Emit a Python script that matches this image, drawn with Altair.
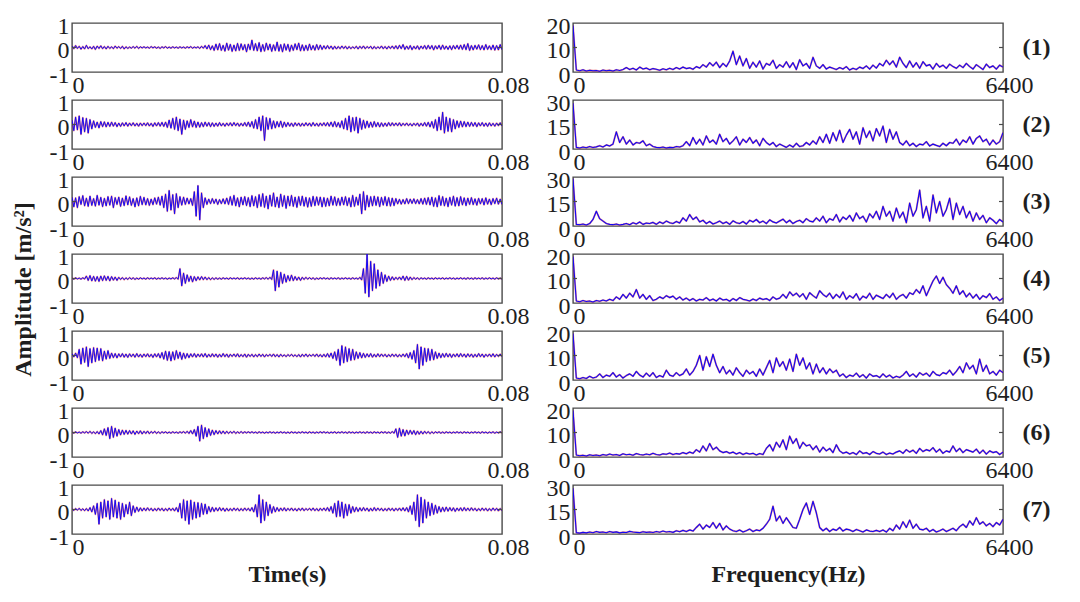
import altair as alt
import pandas as pd

# ---------------- data ----------------
T_MAX = 0.08          # s
F_MAX = 6400          # Hz

# time signals, values in hundredths of m/s^2 (12 rows of 20 samples each)
time_1 = [6,-5,8,-4,5,-7,4,-6,9,-5,3,-6,5,-8,6,-4,7,-5,4,-6,
          5,-4,3,-5,6,-3,4,-4,5,-6,3,-4,2,-3,4,-3,5,-4,3,-2,
          3,-2,2,-3,4,-2,3,-3,2,-4,3,-2,4,-3,2,-3,3,-2,2,-3,
          3,-2,2,-3,3,-2,4,-3,2,-2,3,-4,5,-3,8,-6,10,-9,7,-12,
          14,-10,16,-12,9,-15,18,-11,13,-16,10,-14,17,-12,15,-10,12,-18,14,-9,
          30,-12,16,-14,20,-17,12,-15,18,-10,14,-16,11,-13,22,-15,12,-18,15,-11,
          13,-16,10,-12,15,-9,18,-14,11,-13,9,-12,14,-10,8,-11,12,-9,10,-8,
          7,-6,8,-5,6,-7,5,-6,4,-5,6,-4,5,-6,4,-5,3,-4,5,-6,
          5,-4,6,-5,4,-3,5,-6,4,-5,3,-4,6,-5,4,-6,5,-4,6,-5,
          7,-6,9,-5,12,-8,6,-7,8,-9,5,-6,7,-8,6,-5,8,-7,9,-6,
          8,-10,7,-6,9,-8,10,-7,6,-8,7,-9,8,-6,9,-7,10,-8,12,-9,
          16,-12,8,-10,9,-7,11,-9,8,-10,12,-8,7,-9,10,-11,8,-10,12,-9]
time_2 = [18,-25,30,-22,35,-40,28,-30,25,-35,20,-18,15,-12,10,-14,12,-9,11,-10,
          9,-8,10,-7,8,-9,6,-8,7,-6,8,-7,6,-5,7,-6,5,-7,6,-5,
          6,-5,7,-6,5,-8,7,-6,8,-7,9,-8,10,-12,18,-15,25,-20,30,-25,
          22,-40,18,-20,15,-12,20,-10,14,-12,10,-11,8,-9,10,-7,8,-9,7,-8,
          6,-7,8,-6,5,-7,6,-5,7,-6,8,-5,6,-7,5,-6,8,-7,10,-9,
          12,-15,20,-18,30,-25,35,-65,28,-20,25,-18,15,-14,12,-10,14,-12,10,-9,
          8,-7,6,-8,7,-5,6,-7,5,-6,7,-5,6,-7,8,-6,5,-7,6,-5,
          7,-6,8,-7,10,-9,12,-10,8,-12,15,-18,25,-22,35,-30,28,-25,30,-35,
          25,-20,18,-15,14,-12,10,-11,12,-9,8,-10,7,-8,6,-7,8,-6,7,-5,
          6,-5,7,-6,5,-4,6,-5,4,-6,5,-4,6,-7,5,-6,8,-7,9,-10,
          12,-15,20,-25,30,-22,50,-35,30,-28,25,-30,20,-18,15,-12,14,-10,12,-9,
          10,-8,9,-7,8,-9,7,-6,8,-7,6,-8,7,-6,5,-7,6,-5,7,-6]
time_3 = [18,-22,15,-25,20,-12,24,-18,14,-20,22,-16,12,-19,25,-15,17,-21,13,-18,
          20,-15,22,-25,16,-12,18,-20,14,-17,23,-14,19,-16,12,-22,15,-18,21,-13,
          17,-14,12,-16,10,-13,15,-11,18,-15,22,-25,30,-40,45,-35,28,-50,32,-25,
          20,-15,18,-12,14,-10,12,-16,40,-60,65,-75,35,-25,15,-12,10,-9,12,-8,
          10,-12,8,-9,11,-10,14,-12,20,-15,25,-18,15,-22,18,-14,20,-17,16,-21,
          24,-18,20,-25,28,-20,32,-24,22,-30,26,-19,35,-22,18,-25,30,-20,24,-28,
          22,-18,25,-20,18,-24,20,-16,22,-19,17,-23,15,-20,21,-17,19,-15,18,-22,
          16,-20,14,-18,22,-15,19,-17,13,-16,18,-14,20,-17,15,-22,25,-20,18,-15,
          30,-50,40,-35,25,-22,20,-18,22,-16,19,-21,17,-15,20,-18,16,-19,14,-17,
          12,-10,9,-11,8,-10,12,-9,10,-8,11,-9,8,-10,12,-11,14,-12,16,-14,
          18,-20,15,-22,24,-16,20,-18,14,-21,17,-15,22,-19,16,-18,20,-14,15,-17,
          14,-12,16,-13,11,-15,13,-10,12,-14,15,-11,10,-13,12,-9,14,-11,10,-12]
time_4 = [2,-3,3,-2,2,-3,3,-2,10,-8,12,-10,9,-11,8,-12,10,-9,11,-8,
          9,-10,8,-7,6,-8,5,-4,4,-5,3,-4,4,-3,3,-4,2,-3,3,-2,
          2,-3,3,-2,2,-2,3,-3,2,-2,3,-2,2,-3,2,-2,3,-2,4,-3,
          40,-30,22,-20,15,-12,10,-14,8,-9,7,-6,8,-5,6,-5,4,-5,3,-4,
          3,-3,2,-3,3,-2,2,-3,3,-2,2,-2,3,-3,2,-2,3,-2,2,-3,
          2,-3,3,-2,2,-3,3,-2,4,-3,5,-4,35,-50,30,-35,25,-20,18,-15,
          12,-10,14,-9,8,-7,6,-8,5,-4,5,-3,4,-3,3,-4,2,-3,3,-2,
          3,-2,2,-3,3,-2,2,-2,3,-3,2,-2,3,-2,2,-3,3,-2,2,-3,
          5,-6,40,-60,100,-75,70,-50,60,-40,35,-30,25,-20,15,-12,10,-8,7,-6,
          5,-4,6,-5,10,-8,9,-7,6,-5,4,-3,3,-4,3,-2,2,-3,3,-2,
          2,-3,3,-2,2,-2,3,-3,2,-2,3,-2,2,-3,2,-2,3,-2,2,-3,
          3,-2,2,-3,3,-2,2,-2,3,-3,2,-2,3,-2,2,-3,3,-2,2,-3]
time_5 = [8,-6,10,-9,25,-35,30,-28,35,-45,28,-30,32,-25,30,-20,28,-22,18,-15,
          20,-12,10,-9,8,-10,7,-6,8,-7,6,-8,7,-5,6,-7,8,-6,5,-7,
          6,-5,7,-6,5,-8,7,-6,8,-10,12,-15,18,-20,16,-22,15,-18,20,-12,
          14,-16,10,-12,8,-9,7,-6,8,-7,6,-5,7,-6,8,-7,5,-6,7,-5,
          6,-7,5,-6,8,-5,6,-7,5,-4,6,-5,7,-6,4,-5,6,-7,5,-4,
          5,-6,4,-5,6,-4,5,-6,4,-3,5,-4,6,-5,4,-6,5,-4,3,-5,
          4,-3,5,-4,3,-5,4,-6,5,-4,6,-5,4,-3,5,-4,6,-5,4,-6,
          5,-6,8,-7,10,-12,15,-20,25,-40,40,-30,35,-25,28,-20,25,-18,15,-12,
          12,-10,9,-8,7,-6,8,-7,5,-6,7,-5,6,-4,5,-6,4,-5,6,-4,
          5,-6,4,-5,6,-5,8,-10,12,-15,20,-30,45,-55,35,-40,30,-25,28,-20,
          25,-18,15,-12,10,-9,8,-7,9,-6,7,-8,6,-5,7,-6,8,-5,6,-7,
          7,-5,6,-7,5,-6,8,-5,6,-7,5,-4,6,-5,7,-6,5,-4,6,-5]
time_6 = [2,-3,3,-2,2,-3,3,-2,4,-3,5,-4,3,-5,4,-6,8,-10,15,-12,
          20,-25,25,-20,18,-15,12,-10,10,-8,9,-7,8,-6,7,-8,6,-5,7,-6,
          5,-4,6,-5,4,-3,5,-4,3,-4,3,-2,3,-3,2,-3,3,-2,2,-3,
          3,-2,4,-3,5,-4,8,-6,12,-15,25,-35,30,-25,20,-18,15,-12,10,-9,
          8,-6,7,-5,6,-5,5,-4,4,-3,5,-4,3,-3,4,-3,3,-2,3,-2,
          3,-2,2,-3,3,-2,2,-3,2,-2,3,-2,2,-3,2,-2,3,-2,2,-3,
          2,-3,3,-2,2,-3,2,-2,3,-2,2,-3,3,-2,2,-3,2,-2,3,-2,
          3,-2,2,-3,2,-2,3,-3,2,-2,3,-2,2,-3,3,-2,2,-3,2,-2,
          3,-2,2,-3,3,-2,2,-3,3,-2,2,-3,3,-2,3,-3,2,-3,4,-3,
          15,-20,18,-15,12,-14,10,-8,9,-7,8,-9,6,-7,5,-6,5,-4,4,-5,
          3,-4,3,-2,3,-3,2,-3,3,-2,2,-3,2,-2,3,-2,2,-3,3,-2,
          2,-3,2,-2,3,-2,2,-3,3,-2,2,-3,2,-2,3,-3,2,-2,3,-2]
time_7 = [3,-4,4,-3,5,-4,3,-5,4,-6,8,-10,15,-20,25,-60,30,-35,40,-30,
          35,-40,45,-30,38,-35,30,-40,25,-30,20,-18,30,-25,15,-12,10,-8,7,-6,
          6,-5,7,-4,5,-6,4,-5,6,-4,5,-6,4,-5,6,-4,5,-6,8,-10,
          25,-35,40,-45,35,-60,38,-40,30,-35,28,-30,25,-20,22,-18,12,-10,9,-8,
          7,-6,8,-5,6,-7,5,-6,4,-5,6,-4,5,-6,4,-5,6,-4,5,-6,
          8,-10,20,-30,60,-55,40,-45,30,-25,20,-15,12,-10,8,-7,6,-5,7,-6,
          5,-4,6,-5,4,-6,5,-4,6,-5,4,-3,5,-4,6,-5,4,-6,5,-4,
          6,-5,8,-7,12,-15,25,-30,35,-28,30,-35,22,-25,20,-15,12,-10,9,-8,
          7,-6,8,-5,6,-7,5,-6,8,-5,6,-4,5,-6,4,-5,6,-4,5,-6,
          5,-4,6,-5,7,-6,8,-10,15,-20,30,-45,60,-70,50,-55,40,-35,30,-25,
          25,-20,18,-15,12,-10,9,-8,10,-7,8,-6,7,-8,6,-5,7,-6,8,-5,
          6,-5,7,-4,5,-6,4,-5,6,-4,5,-6,4,-5,6,-4,5,-6,4,-5]

# amplitude spectra
spec_1 = [19,
          0.8,0.5,0.9,0.4,0.7,0.5,0.6,0.3,0.8,0.5,0.7,0.4,0.9,0.6,1.0,
          1.8,1.0,1.5,0.8,2.0,1.2,1.6,0.9,1.4,1.1,0.7,1.3,0.9,1.5,1.0,1.8,1.2,2.0,1.4,1.7,1.1,2.2,1.6,
          3.0,2.0,3.8,2.5,4.0,1.8,3.5,2.2,4.5,
          8.5,3.0,6.5,
          2.5,5.5,1.5,4.0,2.0,4.5,1.2,3.5,2.8,4.8,1.5,3.0,2.0,4.2,1.8,3.8,1.0,5.0,2.5,3.5,1.5,6.0,
          2.5,1.5,3.0,1.2,2.0,1.5,1.0,1.8,1.2,2.2,0.8,1.5,1.0,2.0,1.4,2.5,1.2,2.8,1.6,
          3.5,2.5,4.8,3.0,4.5,2.0,6.0,3.5,1.8,4.5,
          2.0,3.8,1.5,4.2,2.5,3.0,1.2,3.5,2.0,2.8,1.5,3.2,2.2,1.5,2.8,1.8,3.5,2.2,1.2,3.0,2.0,1.0,3.2,1.8,2.5,1.2,2.8,2.0]
spec_2 = [28,
          1.0,0.6,1.2,0.8,1.5,0.9,1.3,2.0,1.2,2.5,1.8,3.0,
          10.5,4.0,
          7.5,3.0,5.5,2.5,4.0,3.5,5.0,2.0,3.0,
          1.5,1.0,0.8,1.2,0.6,1.0,0.8,1.5,1.2,2.0,
          4.5,2.0,7.0,3.0,6.0,2.5,8.0,4.0,5.5,3.0,9.0,4.5,6.5,3.0,5.0,7.5,2.5,6.0,4.0,7.0,3.5,5.5,2.0,6.5,4.0,
          2.5,4.0,1.5,3.0,2.0,1.0,2.5,1.2,3.5,1.5,2.0,4.0,2.5,
          5.0,3.0,7.5,4.0,9.0,3.5,10.0,5.0,11.5,4.0,8.5,12.0,6.0,10.5,3.0,13.0,7.0,11.0,5.0,
          12.5,8.0,14.0,4.0,12.0,6.0,10.5,
          4.0,2.5,5.0,2.0,3.5,1.5,3.0,2.5,4.5,1.8,3.0,2.2,1.5,3.5,2.0,4.0,
          3.5,6.0,2.5,5.5,4.0,7.5,3.0,6.5,8.0,4.5,6.0,2.5,5.5,3.0,4.5,10.0]
spec_3 = [29,
          1.0,0.8,1.2,0.6,1.5,
          4.0,9.0,4.5,
          3.0,1.5,1.0,0.8,1.2,0.6,1.0,1.5,0.8,2.0,1.2,2.5,1.0,1.8,1.5,2.2,1.0,2.5,1.5,3.0,2.0,1.5,2.8,1.8,
          5.0,3.0,7.0,4.0,5.5,
          2.5,3.5,1.5,2.8,1.2,2.0,3.0,1.5,2.5,1.0,3.2,2.0,1.5,2.8,1.2,3.5,2.5,4.0,2.0,3.0,1.5,3.8,2.5,1.8,3.0,4.2,2.0,3.5,1.5,2.8,3.5,2.0,4.5,3.0,
          2.5,5.0,3.0,6.0,2.0,4.5,3.5,7.0,2.5,5.5,4.0,6.5,3.0,8.0,4.5,6.0,2.5,7.5,5.0,9.0,
          4.0,12.0,6.0,9.0,3.0,11.0,5.0,8.5,
          2.0,14.0,6.0,10.0,22.0,5.0,12.0,3.0,19.0,8.0,15.0,6.0,10.0,17.0,4.0,14.0,7.0,
          12.0,5.0,9.0,3.0,8.0,4.0,6.5,2.0,5.0,3.5,1.5,4.0,2.5]
spec_4 = [19,
          0.8,0.5,1.0,0.6,0.8,0.4,1.0,0.7,1.2,0.8,1.5,1.0,
          2.5,1.5,3.5,2.0,4.0,2.5,
          5.5,
          2.0,3.5,1.5,3.0,1.0,
          1.5,2.5,1.8,3.0,2.2,2.8,1.5,2.5,
          1.2,2.0,1.0,1.8,0.8,1.5,1.2,2.2,1.0,1.6,0.8,2.0,1.2,1.5,0.7,1.8,1.0,2.2,1.5,1.2,0.8,1.6,1.0,2.0,1.4,1.8,1.0,2.5,1.5,2.0,
          3.5,2.0,4.5,3.0,4.0,2.5,3.8,1.5,4.2,3.0,2.0,5.0,3.5,
          2.5,4.0,1.8,3.5,2.2,4.5,1.5,3.0,2.0,3.8,1.2,2.8,2.0,4.0,1.5,3.2,2.5,1.8,3.5,2.2,4.0,1.5,2.8,3.5,2.0,4.2,
          3.5,5.5,4.0,7.0,3.0,6.0,
          9.0,11.0,8.0,10.5,7.5,
          6.0,4.0,7.0,3.5,5.0,
          2.5,4.0,2.0,3.5,1.5,3.0,2.2,3.8,1.5,2.5,1.0,2.0]
spec_5 = [19,
          0.8,0.5,1.0,0.6,1.5,0.8,1.2,2.5,1.0,2.0,1.5,3.0,1.2,2.2,0.8,1.8,2.5,1.5,3.5,2.0,1.2,2.8,1.5,3.0,1.0,1.8,1.2,4.0,2.0,1.5,3.0,1.8,
          2.5,4.5,2.0,3.5,
          6.0,10.0,4.0,9.5,5.5,10.5,6.0,
          3.0,5.5,2.5,4.0,2.0,5.0,3.0,1.5,4.0,2.5,3.5,1.5,4.5,2.0,
          5.0,8.0,3.0,9.0,5.5,7.5,4.0,8.5,3.5,10.5,6.0,9.0,4.5,7.0,2.5,6.5,
          3.0,5.0,2.5,4.5,3.0,4.0,
          1.5,2.5,1.0,2.0,1.5,2.8,1.2,2.2,0.8,2.5,1.5,1.8,1.0,2.5,1.2,2.0,0.8,1.5,1.0,
          2.0,3.5,1.5,2.5,1.2,3.0,2.0,2.8,1.5,3.5,2.2,1.8,3.0,2.5,4.0,2.0,3.5,
          5.5,3.0,7.0,4.5,6.0,2.5,8.5,3.5,6.0,
          2.5,3.5,2.0,4.0,3.0]
spec_6 = [19,
          0.8,0.5,0.7,0.4,0.9,0.6,0.8,0.5,1.0,0.7,1.2,0.8,1.0,0.6,1.3,0.9,1.1,0.7,1.4,1.0,0.8,1.2,0.9,1.5,1.0,0.8,1.3,1.1,1.6,1.0,1.4,1.2,1.8,1.3,2.0,1.5,
          3.0,2.0,4.5,2.5,5.5,3.0,4.0,
          2.5,1.8,2.2,1.5,2.0,1.2,1.8,1.0,1.6,1.2,1.5,0.8,1.4,1.0,
          3.5,5.0,2.5,6.0,4.0,7.0,3.0,8.5,5.5,7.5,3.5,6.0,4.5,5.0,
          3.0,4.5,2.0,4.0,2.5,3.5,1.8,5.0,2.5,
          1.5,2.0,1.2,1.8,1.0,2.5,1.4,1.8,1.0,2.2,1.5,1.2,2.0,1.0,1.6,1.2,2.0,
          2.5,1.5,3.0,2.0,2.8,1.5,3.5,2.2,3.0,2.5,3.8,2.0,3.2,1.5,2.5,2.0,4.5,2.2,3.5,1.8,3.0,2.5,2.0,3.2,1.5,2.8,1.2,2.5,1.8,2.2,1.0,2.0]
spec_7 = [28,
          0.8,0.5,1.0,0.7,1.2,0.8,1.5,1.0,1.2,0.8,1.5,1.0,1.3,0.7,1.1,0.9,1.6,1.2,1.0,0.8,1.4,1.0,1.2,0.9,1.5,1.1,1.8,1.2,1.5,1.0,2.0,1.4,2.2,1.5,2.5,1.8,
          4.0,6.0,3.0,5.5,4.0,7.0,3.5,6.5,2.5,5.0,3.0,
          2.0,1.5,2.5,1.2,2.0,3.0,1.5,2.5,2.0,3.5,
          6.0,9.0,17.0,8.0,11.0,6.5,10.0,7.0,
          4.0,3.5,
          9.0,15.0,19.0,12.0,20.0,13.0,
          4.0,2.0,3.5,1.5,3.0,2.2,4.0,1.8,3.0,2.5,1.5,2.8,2.0,1.2,2.5,1.8,1.5,2.2,
          1.5,2.5,1.2,3.5,2.0,5.5,3.0,7.5,4.0,8.5,3.5,6.0,3.0,
          2.5,3.5,1.5,2.8,1.2,2.0,3.0,1.5,2.5,3.5,2.0,4.5,
          6.0,4.0,8.0,5.5,10.0,6.0,7.5,5.0,6.5,4.5,7.0,5.5,9.0]

time_series = [time_1, time_2, time_3, time_4, time_5, time_6, time_7]
spec_series = [spec_1, spec_2, spec_3, spec_4, spec_5, spec_6, spec_7]
spec_top = [20, 30, 30, 20, 20, 20, 30]
spec_mid = [10, 15, 15, 10, 10, 10, 15]
row_labels = ["(1)", "(2)", "(3)", "(4)", "(5)", "(6)", "(7)"]
time_ticks = [-1, 0, 1]

# ---------------- styling ----------------
FONT = "Liberation Serif"
W, H = 430, 49
BLUE = "#1208f5"
RED = "#e0202a"
FRAME = "#4a4a4a"
TXT = "#1e1e1e"


def frame(vals, xmax, scale):
    n = len(vals)
    return pd.DataFrame({"x": [i * xmax / (n - 1) for i in range(n)],
                         "y": [v * scale for v in vals]})


def lines(df, xs, ys, xaxis, yaxis, xtitle, ytitle, wide):
    base = alt.Chart(df)
    red = base.mark_line(color=RED, strokeWidth=wide + 0.7, opacity=0.5, strokeJoin="round", clip=True).encode(
        x=alt.X("x:Q", scale=xs, axis=xaxis, title=xtitle),
        y=alt.Y("y:Q", scale=ys, axis=yaxis, title=ytitle),
    )
    blue = base.mark_line(color=BLUE, strokeWidth=wide, strokeJoin="round", clip=True).encode(
        x=alt.X("x:Q", scale=xs, axis=xaxis, title=xtitle),
        y=alt.Y("y:Q", scale=ys, axis=None),
    )
    return red, blue


def inner_ticks(mid, ys, right_title=None):
    d = pd.DataFrame({"y": [mid]})
    left = alt.Chart(d).mark_rule(color=FRAME, strokeWidth=1.2).encode(
        x=alt.value(0), x2=alt.value(4), y=alt.Y("y:Q", scale=ys, axis=None))
    if right_title is None:
        right = alt.Chart(d).mark_rule(color=FRAME, strokeWidth=1.2).encode(
            x=alt.value(W - 4), x2=alt.value(W), y=alt.Y("y:Q", scale=ys, axis=None))
    else:
        rax = alt.Axis(orient="right", labels=False, ticks=False, domain=False, title=right_title,
                       titleAngle=0, titleAlign="left", titleBaseline="middle", titlePadding=19,
                       titleFontSize=24, titleFontWeight="bold", titleFont=FONT, titleColor=TXT)
        right = alt.Chart(d).mark_rule(color=FRAME, strokeWidth=1.2).encode(
            x=alt.value(W - 4), x2=alt.value(W), y=alt.Y("y:Q", scale=ys, axis=rax))
    return left, right


def time_panel(k):
    df = frame(time_series[k], T_MAX, 0.01)
    xs = alt.Scale(domain=[0, T_MAX], nice=False, zero=False)
    ys = alt.Scale(domain=[-1, 1], nice=False)
    xaxis = alt.Axis(values=[0, T_MAX], format=".2~f", labelAlign="center", labelOffset=6,
                     labelPadding=1, labelBaseline="top")
    if k == 3:
        yaxis = alt.Axis(values=time_ticks, labelExpr="'' + datum.value", labelPadding=3,
                         labelOffset=3, titlePadding=14, titleY=35)
    else:
        yaxis = alt.Axis(values=time_ticks, labelExpr="'' + datum.value", labelPadding=3,
                         labelOffset=3)
    xtitle = "Time(s)" if k == 6 else None
    ytitle = "Amplitude [m/s\u00b2]" if k == 3 else None
    red, blue = lines(df, xs, ys, xaxis, yaxis, xtitle, ytitle, 1.0)
    tl, tr = inner_ticks(0, ys)
    return alt.layer(red, blue, tl, tr).resolve_axis(y="independent").properties(width=W, height=H)


def spec_panel(k):
    df = frame(spec_series[k], F_MAX, 1.0)
    top = spec_top[k]
    xs = alt.Scale(domain=[0, F_MAX], nice=False, zero=False)
    ys = alt.Scale(domain=[0, top], nice=False)
    xaxis = alt.Axis(values=[0, F_MAX], format="d", labelAlign="center", labelOffset=6,
                     labelPadding=1, labelBaseline="top")
    yaxis = alt.Axis(values=[0, spec_mid[k], top], format="d", labelPadding=3, labelOffset=3)
    xtitle = "Frequency(Hz)" if k == 6 else None
    red, blue = lines(df, xs, ys, xaxis, yaxis, xtitle, None, 1.15)
    tl, tr = inner_ticks(spec_mid[k], ys, row_labels[k])
    return alt.layer(red, blue, tl, tr).resolve_axis(y="independent").properties(width=W, height=H)


cells = []
for k in range(7):
    cells.append(time_panel(k))
    cells.append(spec_panel(k))

chart = alt.concat(*cells, columns=2, spacing={"row": 28, "column": 71}, bounds="flush").properties(
    padding={"left": 2, "top": 5, "right": 5, "bottom": 5}
).configure_view(
    stroke=FRAME, strokeWidth=1.4
).configure_axis(
    labelFont=FONT, labelFontSize=24, labelColor=TXT,
    titleFont=FONT, titleFontSize=24, titleFontWeight="bold", titleColor=TXT,
    grid=False, domain=False, ticks=False, labelFlush=False, labelOverlap=False,
).configure_axisX(titlePadding=3)

chart.save("out.html", embed_options={"renderer": "svg", "actions": False})
